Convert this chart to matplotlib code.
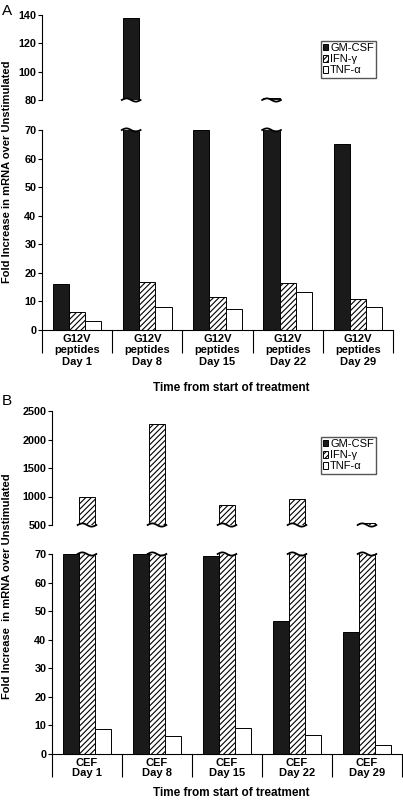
import numpy as np
import matplotlib
matplotlib.use("Agg")
import matplotlib.pyplot as plt

plt.rcParams['font.family'] = ['Liberation Sans', 'DejaVu Sans']
plt.rcParams['hatch.linewidth'] = 0.8

# ---- data ----
cytokines = ["GM-CSF", "IFN-\u03b3", "TNF-\u03b1"]

days_a = ["G12V\npeptides\nDay 1", "G12V\npeptides\nDay 8", "G12V\npeptides\nDay 15",
          "G12V\npeptides\nDay 22", "G12V\npeptides\nDay 29"]
gm_a = [16.2, 138, 70, 81.5, 65.1]
ifn_a = [6.4, 16.7, 11.4, 16.6, 10.7]
tnf_a = [3.3, 7.9, 7.35, 13.2, 8.2]

days_b = ["CEF\nDay 1", "CEF\nDay 8", "CEF\nDay 15", "CEF\nDay 22", "CEF\nDay 29"]
gm_b = [70, 70, 69.2, 46.4, 42.6]
ifn_b = [1000, 2280, 850, 950, 530]
tnf_b = [8.9, 6.4, 9.1, 6.8, 3.0]

W, H = 403, 800
fig = plt.figure(figsize=(W/100, H/100), dpi=100)

fills = ["#1a1a1a", "white", "white"]
hatches = [None, "//////", None]


def px_axes(x0, y0, x1, y1):
    return fig.add_axes([x0/W, 1 - y1/H, (x1 - x0)/W, (y1 - y0)/H])


def wave(ax, xc, w, ypos, amp_px, top):
    h = ax.bbox.height
    t = np.linspace(0, 1, 40)
    xs = xc - w/2 - 0.08*w + t*w*1.16
    ys = ypos + amp_px/h*np.sin(2*np.pi*t)
    tr = ax.get_xaxis_transform()
    if top:
        ax.fill_between(xs, ys, np.maximum(ys, ypos), color="white", transform=tr,
                        clip_on=False, zorder=3, lw=0)
    else:
        ax.fill_between(xs, np.minimum(ys, ypos), ys, color="white", transform=tr,
                        clip_on=False, zorder=3, lw=0)
    ax.plot(xs, ys, color="black", lw=1.3, transform=tr, clip_on=False, zorder=4)


def panel(top_box, bot_box, up_lim, up_ticks, labels, series, letter, letter_y,
          ylabel, ylab_y, xlab_y, ls):
    axu = px_axes(*top_box)
    axl = px_axes(*bot_box)
    x = np.arange(len(labels))
    w = 0.23
    handles = []
    for k, vals in enumerate(series):
        for ax in (axu, axl):
            b = ax.bar(x + (k - 1)*w, vals, w, color=fills[k], edgecolor="black",
                       hatch=hatches[k], lw=0.7, label=cytokines[k], zorder=2)
            if ax is axu:
                handles.append(b)
        for i, v in enumerate(vals):
            if v > 70:
                wave(axl, x[i] + (k - 1)*w, w, 1.0, 1.6, True)
                wave(axu, x[i] + (k - 1)*w, w, 0.0, 1.6, False)

    for ax in (axu, axl):
        ax.set_xlim(-0.5, len(labels) - 0.5)
        ax.spines["top"].set_visible(False)
        ax.spines["right"].set_visible(False)
        ax.spines["left"].set_linewidth(0.8)
        ax.tick_params(axis="y", length=3, width=0.8, pad=1, labelsize=7.8)

    axu.set_ylim(*up_lim)
    axu.set_yticks(up_ticks)
    axu.spines["bottom"].set_visible(False)
    axu.set_xticks([])
    for t in axu.get_yticklabels():
        t.set_fontweight("bold")

    axl.set_ylim(0, 70)
    axl.set_yticks(range(0, 71, 10))
    for t in axl.get_yticklabels():
        t.set_fontweight("bold")
    axl.spines["bottom"].set_linewidth(0.8)
    axl.set_xticks(x)
    axl.set_xticklabels(labels, fontsize=8, fontweight="bold", linespacing=ls)
    axl.set_xticks(np.arange(-0.5, len(labels), 1.0), minor=True)
    axl.tick_params(axis="x", which="major", length=0, pad=3)
    axl.tick_params(axis="x", which="minor", length=16.5, width=0.8, direction="out")

    axu.legend(handles, cytokines, loc="upper right",
               bbox_to_anchor=(376/W, 1 - (top_box[1] + 26)/H), bbox_transform=fig.transFigure,
               fontsize=8, fancybox=False, edgecolor="#555555", framealpha=1,
               handlelength=0.5, handleheight=0.5, handletextpad=0.15,
               borderpad=0.2, labelspacing=0.1, borderaxespad=0)

    fig.text(231/W, 1 - xlab_y/H, "Time from start of treatment", ha="center",
             va="center", fontsize=8.5, fontweight="bold")
    fig.text(7/W, 1 - ylab_y/H, ylabel, rotation=90, ha="center", va="center",
             fontsize=8, fontweight="bold")
    fig.text(2/W, 1 - letter_y/H, letter, ha="left", va="center", fontsize=11)


panel((42, 15, 393, 100), (42, 130, 393, 330), (80, 140), [80, 100, 120, 140],
      days_a, [gm_a, ifn_a, tnf_a], "A", 11,
      "Fold Increase in mRNA over Unstimulated", 172, 388, 1.15)

panel((52, 411, 402, 525), (52, 554, 402, 754), (500, 2500), [500, 1000, 1500, 2000, 2500],
      days_b, [gm_b, ifn_b, tnf_b], "B", 401,
      "Fold Increase  in mRNA over Unstimulated", 586, 793, 1.0)

fig.savefig("out.png", dpi=100)
